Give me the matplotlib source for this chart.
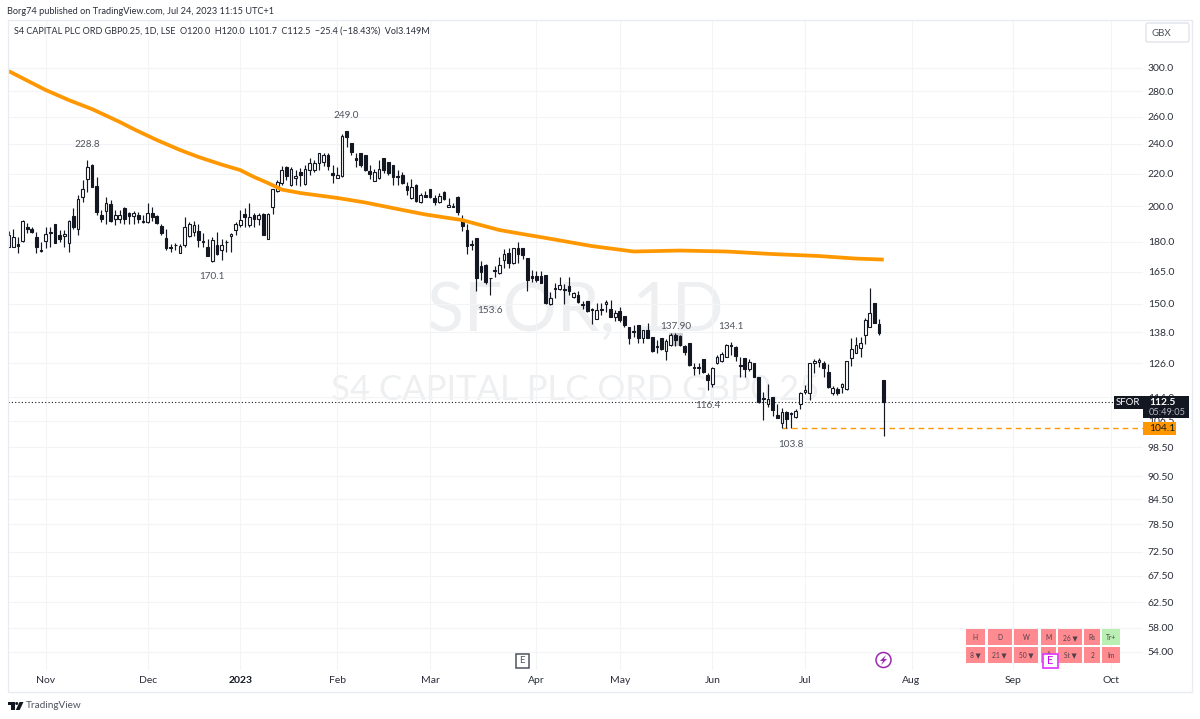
import matplotlib
matplotlib.use('Agg')
import matplotlib.pyplot as plt
from matplotlib.patches import Rectangle, Circle, Polygon, FancyBboxPatch
from matplotlib.ticker import NullLocator
import numpy as np

plt.rcParams['font.family'] = ['Lato', 'DejaVu Sans']

opens = [177.5, 177.5, 178.8, 180.6, 187.8, 187.2, 182.4, 175.6, 180.6, 185.4,
         189.5, 183.6, 183.1, 179.5, 194.4, 187.2, 205.6, 216.8, 225.8, 212.2,
         194.9, 197.3, 201.2, 192.8, 192.8, 199.0, 195.7, 194.2, 194.7, 191.5,
         191.0, 195.7, 194.4, 188.7, 182.2, 177.3, 178.6, 174.1, 178.3, 183.1,
         185.4, 185.8, 180.4, 177.3, 170.1, 178.3, 175.7, 180.2, 183.1, 186.3,
         189.3, 195.3, 188.9, 194.9, 192.3, 195.3, 181.8, 199.6, 209.1, 213.8,
         224.5, 212.7, 217.0, 220.8, 213.4, 222.3, 222.3, 227.1, 227.8, 232.3,
         220.6, 217.4, 218.4, 249.0, 240.4, 230.1, 233.9, 232.1, 221.4, 215.5,
         217.0, 230.1, 227.8, 225.6, 218.4, 218.9, 212.1, 204.6, 212.7, 202.6,
         206.3, 210.1, 204.8, 202.6, 208.3, 199.6, 200.0, 205.6, 192.3, 186.4,
         178.9, 182.2, 167.7, 168.2, 162.1, 165.7, 164.1, 170.7, 174.4, 169.0,
         177.0, 176.6, 171.5, 162.9, 162.9, 162.9, 163.3, 150.0, 157.0, 156.8,
         156.8, 158.3, 152.9, 154.0, 149.9, 151.2, 148.0, 143.7, 148.0, 149.9,
         147.8, 144.5, 146.9, 144.9, 140.2, 138.4, 141.0, 135.9, 139.0, 136.0,
         132.6, 135.6, 130.7, 133.0, 136.9, 136.5, 132.6, 133.6, 124.6, 124.2,
         127.8, 121.8, 118.6, 126.0, 127.0, 128.5, 132.8, 132.3, 125.4, 127.9,
         123.8, 126.0, 120.9, 113.8, 111.9, 114.0, 108.2, 105.8, 109.2, 109.0,
         107.5, 111.9, 115.9, 115.4, 126.0, 126.5, 126.0, 122.8, 115.6, 116.9,
         117.5, 116.8, 127.9, 130.0, 131.8, 136.9, 140.1, 150.3, 141.3, 120.0]
highs = [185.8, 186.7, 182.7, 191.9, 190.4, 188.2, 185.4, 180.1, 188.2, 188.2,
         190.0, 186.3, 186.3, 191.9, 198.6, 206.6, 215.9, 228.9, 226.3, 217.6,
         197.7, 205.2, 203.6, 197.7, 197.7, 199.2, 196.7, 197.3, 196.7, 194.7,
         201.6, 199.2, 194.7, 189.7, 187.2, 178.8, 179.5, 178.8, 193.4, 191.0,
         191.5, 189.7, 184.6, 181.8, 182.7, 185.4, 181.8, 181.0, 184.9, 191.0,
         197.7, 198.6, 201.6, 195.7, 195.7, 195.7, 195.7, 210.5, 215.9, 224.9,
         224.9, 224.5, 222.3, 223.4, 225.6, 230.1, 228.9, 233.5, 233.9, 233.9,
         225.6, 224.0, 247.1, 249.0, 240.4, 233.9, 233.9, 232.1, 225.6, 222.7,
         228.9, 230.1, 227.8, 225.6, 222.3, 221.2, 214.8, 216.3, 213.4, 207.6,
         209.3, 210.1, 206.6, 208.1, 209.1, 204.6, 202.0, 206.1, 194.8, 189.7,
         181.0, 182.2, 170.3, 168.5, 162.1, 167.7, 172.0, 176.1, 176.6, 176.6,
         180.2, 176.6, 171.5, 165.7, 165.4, 165.4, 163.3, 155.5, 159.7, 162.2,
         159.0, 162.2, 155.5, 156.0, 151.4, 151.2, 148.1, 150.6, 150.3, 151.7,
         151.7, 147.4, 148.8, 144.9, 140.3, 141.0, 141.0, 139.0, 141.7, 136.0,
         134.9, 135.6, 135.2, 137.9, 137.9, 136.9, 133.0, 133.6, 126.2, 126.0,
         127.8, 122.4, 124.8, 129.1, 130.4, 133.3, 134.3, 132.6, 128.5, 127.9,
         127.5, 126.0, 120.9, 115.9, 118.6, 114.0, 111.7, 110.4, 109.7, 109.3,
         110.1, 115.9, 118.2, 126.2, 127.5, 127.9, 127.0, 125.7, 117.9, 117.7,
         118.8, 126.9, 135.6, 136.3, 136.3, 143.8, 157.0, 150.3, 143.4, 120.0]
lows = [177.1, 177.1, 174.4, 180.1, 184.6, 184.6, 174.1, 174.9, 176.6, 177.5,
        179.2, 180.1, 177.5, 174.9, 187.2, 183.6, 202.6, 208.6, 211.3, 194.7,
        191.0, 189.7, 191.0, 189.1, 190.4, 189.7, 189.7, 190.0, 190.4, 190.4,
        190.4, 191.5, 189.7, 183.6, 175.7, 174.9, 175.7, 174.1, 177.5, 182.7,
        183.1, 177.5, 177.5, 172.8, 169.8, 173.3, 170.7, 174.9, 174.9, 183.6,
        188.2, 188.2, 188.2, 188.2, 189.1, 183.6, 181.8, 195.2, 208.7, 212.7,
        215.9, 212.1, 212.7, 212.1, 212.7, 219.1, 221.2, 222.3, 224.9, 222.3,
        213.8, 217.0, 218.0, 237.6, 232.3, 224.0, 224.0, 221.9, 216.3, 215.1,
        216.3, 220.2, 219.1, 212.7, 212.7, 213.4, 206.6, 204.0, 202.6, 202.0,
        205.2, 204.6, 200.6, 202.0, 203.6, 199.2, 199.2, 194.8, 186.0, 173.7,
        175.7, 156.0, 160.9, 159.3, 154.0, 162.4, 163.8, 166.5, 166.5, 168.7,
        169.0, 171.0, 156.0, 160.1, 160.1, 159.6, 150.0, 149.7, 152.5, 156.3,
        150.0, 154.0, 152.5, 150.5, 147.7, 146.5, 141.4, 143.4, 145.2, 146.7,
        144.2, 142.7, 142.4, 140.3, 133.3, 136.0, 133.6, 133.6, 135.6, 130.3,
        130.0, 131.0, 127.2, 132.6, 132.6, 132.6, 129.0, 125.0, 121.8, 122.2,
        122.6, 116.5, 117.7, 125.8, 126.6, 128.2, 129.1, 127.0, 121.2, 121.2,
        123.3, 120.9, 112.3, 106.7, 110.7, 107.9, 107.2, 104.1, 104.1, 104.1,
        107.2, 110.1, 115.2, 113.3, 122.6, 124.5, 121.2, 117.2, 114.8, 114.8,
        115.6, 116.5, 125.0, 129.8, 128.2, 133.3, 140.0, 141.7, 136.9, 101.7]
closes = [183.6, 182.7, 178.0, 191.5, 187.2, 185.4, 177.1, 175.2, 184.2, 184.9,
          179.5, 181.8, 184.0, 191.5, 187.8, 204.0, 210.1, 224.5, 211.7, 196.7,
          192.5, 201.6, 191.5, 194.7, 194.9, 192.8, 194.2, 195.7, 192.3, 190.8,
          195.7, 193.4, 190.4, 184.9, 177.0, 176.8, 178.3, 178.0, 187.8, 189.5,
          189.1, 181.0, 179.9, 172.9, 181.0, 173.8, 178.3, 179.9, 184.2, 189.5,
          191.9, 193.4, 193.8, 192.8, 194.7, 183.6, 195.3, 210.1, 214.8, 222.3,
          218.4, 222.7, 218.4, 219.4, 222.7, 226.7, 227.1, 233.5, 232.3, 224.9,
          218.9, 219.1, 245.9, 245.2, 234.6, 228.9, 225.6, 222.3, 219.6, 220.8,
          223.0, 222.3, 220.6, 218.0, 217.6, 214.2, 209.5, 211.3, 203.2, 206.6,
          205.6, 205.2, 202.6, 206.1, 204.4, 200.6, 199.6, 196.7, 188.8, 177.8,
          178.4, 162.0, 164.9, 160.1, 161.7, 165.2, 168.2, 173.5, 169.3, 176.6,
          173.5, 173.1, 160.9, 162.0, 160.9, 159.6, 150.3, 152.8, 156.6, 158.6,
          156.3, 156.0, 154.8, 151.1, 149.6, 146.8, 147.5, 147.4, 147.5, 151.0,
          144.5, 146.3, 143.1, 140.9, 135.9, 138.0, 135.6, 139.0, 135.9, 130.7,
          132.2, 131.6, 134.4, 136.9, 134.9, 133.0, 130.2, 125.3, 124.2, 124.8,
          122.9, 120.0, 124.4, 128.5, 129.7, 133.0, 132.4, 128.9, 125.0, 123.8,
          126.6, 121.2, 112.4, 113.4, 113.6, 109.9, 107.4, 109.3, 106.9, 108.7,
          109.7, 115.6, 116.5, 126.0, 126.9, 127.3, 124.4, 117.5, 117.1, 115.6,
          118.6, 126.9, 131.3, 133.0, 133.6, 143.0, 145.9, 142.0, 137.6, 112.5]

ma_bars = [0, 4, 8, 13, 18, 24, 27, 32, 37, 41, 46, 50, 53, 56, 59, 63, 71, 77, 83,
           90, 98, 102, 106, 111, 116, 126, 135, 145, 155, 165, 175, 183, 189]
ma_vals = [297.3, 289.1, 281.2, 273.0, 265.9, 256.0, 250.7, 242.8, 235.8, 231.0,
           225.9, 222.3, 217.8, 214.0, 209.9, 207.8, 204.8, 202.1, 198.8, 195.1,
           191.9, 189.1, 186.4, 184.2, 182.1, 177.8, 175.0, 175.5, 175.0, 173.7,
           172.7, 171.4, 170.9]

month_bars = [8, 30, 50, 71, 91, 114, 132, 152, 172, 195, 217, 238]
month_labels = ['Nov', 'Dec', '2023', 'Feb', 'Mar', 'Apr', 'May', 'Jun', 'Jul', 'Aug', 'Sep', 'Oct']

price_ticks = [300, 280, 260, 240, 220, 200, 180, 165, 150, 138, 126, 114, 106.5,
               98.5, 90.5, 84.5, 78.5, 72.5, 67.5, 62.5, 58, 54]
price_labels = ['300.0', '280.0', '260.0', '240.0', '220.0', '200.0', '180.0', '165.0',
                '150.0', '138.0', '126.0', '114.0', '106.5', '98.50', '90.50', '84.50',
                '78.50', '72.50', '67.50', '62.50', '58.00', '54.00']

# high / low labels: bar, price, text, offset in px
peak_bars = [17, 73, 44, 104, 144, 156, 151, 169]
peak_prices = [228.8, 249.0, 170.1, 153.6, 137.9, 134.1, 116.4, 103.8]
peak_text = ['228.8', '249.0', '170.1', '153.6', '137.90', '134.1', '116.4', '103.8']
peak_off = [16, 16, -15, -15, 6, 16, -15, -15]

table_top = ['H', 'D', 'W', 'M', '26 ▼', 'Rs', 'Tr+']
table_bot = ['8 ▼', '21 ▼', '50 ▼', '^', 'St ▼', '2', 'Im']
table_x = [(965.7, 985), (987.7, 1011.7), (1014, 1038.3), (1040.7, 1056),
           (1058, 1082), (1084.3, 1100), (1102, 1120)]

DARK = '#131722'
ORANGE = '#ff9800'

fig = plt.figure(figsize=(12, 7.19), dpi=100, facecolor='white')
ax = fig.add_axes([8 / 1200, 1 - 670 / 719, 1135 / 1200, 650 / 719])

x = np.arange(len(opens))
o = np.array(opens)
h = np.array(highs)
l = np.array(lows)
c = np.array(closes)
up = c >= o
bottoms = np.minimum(o, c)
heights = np.abs(c - o)

ax.set_yscale('log')
ax.set_xlim(-0.145, 245)
ax.set_ylim(51.2, 345.4)

# watermarks
ax.text(0.5, 0.551, 'SFOR, 1D', transform=ax.transAxes, ha='center', va='center',
        fontsize=49, color='#eeeff1', zorder=0)
ax.text(0.5, 0.431, 'S4 CAPITAL PLC ORD GBP0.25', transform=ax.transAxes, ha='center',
        va='center', fontsize=25, color='#eeeff1', zorder=0)

ax.add_patch(Rectangle((142.7, 132.6), 3, 5.3, facecolor='#cfd0d3', edgecolor='none', zorder=1))

ax.vlines(x, l, h, color=DARK, lw=0.85, zorder=2)
ax.bar(x[up], heights[up], bottom=bottoms[up], width=0.58, facecolor='white',
       edgecolor=DARK, linewidth=0.8, zorder=3)
ax.bar(x[~up], heights[~up], bottom=bottoms[~up], width=0.58, facecolor=DARK,
       edgecolor=DARK, linewidth=0.8, zorder=3)

ax.plot(ma_bars, ma_vals, color=ORANGE, lw=2.7, zorder=4, solid_capstyle='butt')

ax.hlines(closes[-1], -0.145, 245, color=DARK, lw=0.8, linestyles=(0, (1, 2)), zorder=1.5)
ax.hlines(104.1, 167, 245, color=ORANGE, lw=1, linestyles=(0, (4, 3)), zorder=1.5)

for b, p, t, off in zip(peak_bars, peak_prices, peak_text, peak_off):
    ax.annotate(t, (b, p), xytext=(0, off * 0.72), textcoords='offset points', ha='center',
                va='center', fontsize=7.2, color='#50535e', zorder=5)

ax.set_yticks(price_ticks)
ax.set_yticklabels(price_labels)
ax.yaxis.set_minor_locator(NullLocator())
ax.yaxis.tick_right()
ax.set_xticks(month_bars)
ax.set_xticklabels(month_labels)
ax.tick_params(axis='both', length=0, labelsize=7.5, labelcolor='#2a2e39')
ax.tick_params(axis='y', pad=3.5)
ax.tick_params(axis='x', pad=4.5)
ax.get_xticklabels()[2].set_color(DARK)
ax.get_xticklabels()[2].set_fontweight('bold')
ax.grid(True, color='#f3f4f6', lw=0.8)
ax.set_axisbelow(True)
for s in ax.spines.values():
    s.set_visible(False)

# page furniture, placed in image pixels
ov = fig.add_axes([0, 0, 1, 1], zorder=5)
ov.set_xlim(0, 1200)
ov.set_ylim(719, 0)
ov.axis('off')
ov.patch.set_alpha(0)

ov.add_patch(Rectangle((7.5, 20), 1184.5, 672, facecolor='none', edgecolor='#e9ebf0', lw=1))
ov.text(7, 11, 'Borg74 published on TradingView.com, Jul 24, 2023 11:15 UTC+1',
        fontsize=6.6, color='#2a2e39', va='center')
ov.text(14, 31, 'S4 CAPITAL PLC ORD GBP0.25, 1D, LSE  O120.0  H120.0  L101.7  C112.5  −25.4 (−18.43%)  Vol3.149M',
        fontsize=6.45, color='#2a2e39', va='center')

ov.add_patch(FancyBboxPatch((1148, 25), 39, 15, boxstyle='round,pad=2', facecolor='white',
                            edgecolor='#e0e3eb', lw=1))
ov.text(1161.5, 33, 'GBX', fontsize=7, color='#50535e', ha='center', va='center')

# price scale boxes
ov.add_patch(Rectangle((1114, 396), 29, 13, facecolor=DARK, edgecolor='none'))
ov.text(1128, 402.5, 'SFOR', fontsize=6.9, color='white', ha='center', va='center')
ov.add_patch(Rectangle((1143, 396), 46, 22, facecolor=DARK, edgecolor='none'))
ov.text(1149, 402.5, '112.5', fontsize=7.4, color='white', va='center', fontweight='bold')
ov.text(1149, 412.5, '05:49:05', fontsize=6.7, color='#b2b5be', va='center')
ov.add_patch(Rectangle((1143, 422), 33, 13, facecolor=ORANGE, edgecolor='none'))
ov.text(1149, 428.5, '104.1', fontsize=7.5, color=DARK, va='center')

# rating table
for (x0, x1), top, bot in zip(table_x, table_top, table_bot):
    for y0, y1, t in [(629.3, 645, top), (647.3, 662.7, bot)]:
        col = '#b9efb2' if t == 'Tr+' else '#ff8a8f'
        ov.add_patch(Rectangle((x0, y0), x1 - x0, y1 - y0, facecolor=col, edgecolor='none'))
        ov.text((x0 + x1) / 2, (y0 + y1) / 2, t, fontsize=4.8, color='#50404a', ha='center', va='center')

# earnings badges
ov.add_patch(Rectangle((1043, 653.5), 14.5, 14.5, facecolor='white', edgecolor='#e040fb', lw=1.3))
ov.text(1050.2, 660.8, 'E', fontsize=8, color='#d500f9', ha='center', va='center')
ov.add_patch(Rectangle((515.5, 653.5), 13.5, 14, facecolor='white', edgecolor='#50535e', lw=1.1))
ov.text(522.2, 660.5, 'E', fontsize=7, color='#50535e', ha='center', va='center')

# dividend flash
ov.add_patch(Circle((883.5, 660), 7.5, facecolor='white', edgecolor='#9c27b0', lw=1.1))
ov.add_patch(Polygon([(886, 655), (880, 661), (883, 661), (881, 665), (887, 659), (884, 659)],
                     facecolor='#9c27b0', edgecolor='none'))

# logo
ov.add_patch(Rectangle((8, 702), 6.5, 3, facecolor=DARK, edgecolor='none'))
ov.add_patch(Rectangle((11, 702), 3.5, 8, facecolor=DARK, edgecolor='none'))
ov.add_patch(Circle((16.7, 703.5), 1.5, facecolor=DARK, edgecolor='none'))
ov.add_patch(Polygon([(19.5, 702), (23.5, 702), (19.7, 710), (15.8, 710)], facecolor=DARK, edgecolor='none'))
ov.text(26, 705.5, 'TradingView', fontsize=7.2, color='#50535e', va='center')

fig.savefig('out.png', dpi=100)
